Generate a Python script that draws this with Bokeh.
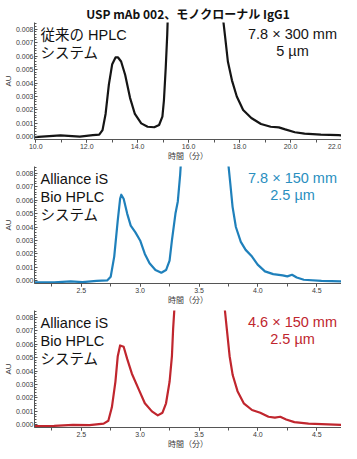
from bokeh.plotting import figure
from bokeh.layouts import column
from bokeh.models import Label, FixedTicker, NumeralTickFormatter, Range1d
from bokeh.embed import file_html
from bokeh.resources import INLINE

# ---------------- data ----------------
title_text = "USP mAb 002、モノクローナル IgG1"
x_label = "時間（分）"
y_label = "AU"

y_ticks = [0.0, 0.001, 0.002, 0.003, 0.004, 0.005, 0.006, 0.007, 0.008]

# Panel 1: conventional HPLC, 7.8 x 300 mm, 5 um
t1 = [9.95, 10.97, 11.73, 12.24, 12.49, 12.62, 12.74, 12.87, 13.0, 13.13, 13.23, 13.35,
      13.51, 13.7, 13.89, 14.14, 14.39, 14.65, 14.84, 14.97, 15.03, 15.1, 15.16, 15.18,
      15.3, 15.6, 16.2, 16.8, 17.1, 17.3,
      17.35, 17.44, 17.54, 17.7, 17.89, 18.14, 18.46, 18.84, 19.22, 19.54, 19.79,
      20.17, 20.55, 21.19, 21.89, 22.0]
a1 = [-0.00003, 0.0001, 0.00002, 0.00012, 0.00016, 0.0005, 0.0017, 0.0039, 0.0054, 0.0059,
      0.0059, 0.0056, 0.0046, 0.0029, 0.0017, 0.0010, 0.00075, 0.00071, 0.00088, 0.0015,
      0.0027, 0.0051, 0.0076, 0.0088,
      0.015, 0.028, 0.035, 0.028, 0.016, 0.0095,
      0.0088, 0.0073, 0.0056, 0.0042, 0.0030, 0.0020, 0.0014, 0.00095, 0.00075, 0.0007,
      0.00055, 0.00034, 0.00024, 0.00016, 0.00012, 0.00011]
x_ticks1 = [10.0, 12.0, 14.0, 16.0, 18.0, 20.0, 22.0]
x_minor1 = [10, 11, 12, 13, 14, 15, 16, 17, 18, 19, 20, 21, 22]

# Panel 2: Alliance iS Bio HPLC, 7.8 x 150 mm, 2.5 um
t2 = [2.103, 2.27, 2.41, 2.51, 2.63, 2.72, 2.75, 2.78, 2.81, 2.83, 2.84, 2.86, 2.89, 2.92,
      2.96, 3.0, 3.04, 3.08, 3.13, 3.18, 3.22, 3.25, 3.27, 3.30, 3.32, 3.34, 3.345,
      3.4, 3.5, 3.6, 3.7,
      3.75, 3.766, 3.785, 3.813, 3.855, 3.896, 3.95, 3.998, 4.06, 4.13, 4.21, 4.25, 4.29,
      4.33, 4.39, 4.54, 4.71]
a2 = [-0.00012, -0.00012, -0.00004, -0.0001, 0.0, 0.00003, 0.0003, 0.0018, 0.0045, 0.0061,
      0.0064, 0.0061, 0.0050, 0.0041, 0.0036, 0.0030, 0.0020, 0.0013, 0.0008, 0.0006,
      0.0008, 0.0015, 0.0030, 0.0050, 0.0059, 0.0079, 0.0086,
      0.018, 0.030, 0.025, 0.012,
      0.0086, 0.0072, 0.0055, 0.0040, 0.0029, 0.0023, 0.0018, 0.0012, 0.0007, 0.0005,
      0.0004, 0.00033, 0.00045, 0.00025, 0.00008, 0.0, -0.00004]

# Panel 3: Alliance iS Bio HPLC, 4.6 x 150 mm, 2.5 um
t3 = [2.103, 2.27, 2.43, 2.57, 2.69, 2.73, 2.76, 2.79, 2.81, 2.83, 2.86, 2.89, 2.93, 2.99,
      3.04, 3.10, 3.15, 3.19, 3.22, 3.25, 3.27, 3.28, 3.29,
      3.35, 3.45, 3.55, 3.65, 3.70,
      3.72, 3.74, 3.76, 3.786, 3.827, 3.88, 3.95, 4.02, 4.09, 4.144, 4.19, 4.24, 4.31,
      4.43, 4.71]
a3 = [-0.0001, -0.00008, 0.0, -0.00003, 0.00009, 0.0003, 0.0013, 0.0032, 0.0051, 0.0059,
      0.0058, 0.0049, 0.0038, 0.0026, 0.0016, 0.0010, 0.0007, 0.0009, 0.0016, 0.0032,
      0.0051, 0.0071, 0.0085,
      0.016, 0.028, 0.03, 0.02, 0.011,
      0.0085, 0.0068, 0.0051, 0.0037, 0.0025, 0.0016, 0.0011, 0.0009, 0.0006, 0.00053,
      0.0006, 0.0004, 0.0002, 0.00009, 0.0]
x_ticks23 = [2.5, 3.0, 3.5, 4.0, 4.5]
x_minor23 = [2.25, 2.5, 2.75, 3.0, 3.25, 3.5, 3.75, 4.0, 4.25, 4.5, 4.75]

y_minor = [i * 0.0002 for i in range(-1, 44)]

left_labels = [["従来の HPLC", "システム"],
               ["Alliance iS", "Bio HPLC", "システム"],
               ["Alliance iS", "Bio HPLC", "システム"]]
right_labels = [["7.8 × 300 mm", "5 µm"],
                ["7.8 × 150 mm", "2.5 µm"],
                ["4.6 × 150 mm", "2.5 µm"]]
line_colors = ["#151515", "#1f80bb", "#c0262e"]
text_colors = ["#151515", "#2a8fc0", "#c0262e"]

FONT = "Liberation Sans, Arial, Noto Sans CJK JP, sans-serif"
TITLE_FONT = "Noto Sans CJK JP, Liberation Sans, sans-serif"
FW = 307   # frame width
FH = 117   # frame height


def make_fig(top, bottom, xr, xt, xm, title=None):
    p = figure(frame_width=FW, frame_height=FH, output_backend="svg", toolbar_location=None,
               x_range=Range1d(*xr), y_range=Range1d(-0.0002, 0.0085),
               min_border_left=34, min_border_right=0, min_border_top=top,
               min_border_bottom=bottom, title=title)
    p.outline_line_color = None
    p.xgrid.visible = False
    p.ygrid.visible = False
    p.background_fill_color = "white"
    p.border_fill_color = "white"
    for ax in (p.xaxis[0], p.yaxis[0]):
        ax.axis_line_color = "#555555"
        ax.major_tick_line_color = "#555555"
        ax.minor_tick_line_color = "#555555"
        ax.major_label_text_font = FONT
        ax.major_label_text_font_size = "7px"
        ax.major_label_text_color = "#3a3a3a"
        ax.axis_label_text_font = FONT
        ax.axis_label_text_font_size = "8px"
        ax.axis_label_text_font_style = "normal"
        ax.axis_label_text_color = "#3a3a3a"
        ax.major_label_standoff = 1
        ax.axis_label_standoff = 0
    p.xaxis.ticker = FixedTicker(ticks=xt, minor_ticks=xm)
    p.xaxis.formatter = NumeralTickFormatter(format="0.0")
    p.xaxis.major_tick_in = 0
    p.xaxis.major_tick_out = 3
    p.xaxis.minor_tick_in = 0
    p.xaxis.minor_tick_out = 3
    p.xaxis.axis_label = x_label
    p.yaxis.ticker = FixedTicker(ticks=y_ticks, minor_ticks=y_minor)
    p.yaxis.formatter = NumeralTickFormatter(format="0.000")
    p.yaxis.major_tick_in = 3
    p.yaxis.major_tick_out = 0
    p.yaxis.minor_tick_in = 2
    p.yaxis.minor_tick_out = 0
    p.yaxis.axis_label = y_label
    return p


p1 = make_fig(22, 21, (9.95, 22.0), x_ticks1, x_minor1, title=title_text)
p1.title.align = "center"
p1.title.text_font = TITLE_FONT
p1.title.text_font_size = "12px"
p1.title.text_font_style = "bold"
p1.title.text_color = "#111111"
p1.title.standoff = 2
p2 = make_fig(3, 21, (2.103, 4.71), x_ticks23, x_minor23)
p3 = make_fig(3, 21, (2.103, 4.71), x_ticks23, x_minor23)
figs = [p1, p2, p3]
series = [(t1, a1), (t2, a2), (t3, a3)]

for i, p in enumerate(figs):
    t, a = series[i]
    p.line(t, a, line_color=line_colors[i], line_width=2.2, line_join="round")
    for j, s in enumerate(left_labels[i]):
        p.add_layout(Label(x=6, y=FH - 12 - j * 18.3, x_units="screen", y_units="screen",
                           text=s, text_font=FONT, text_font_size="14.5px",
                           text_color="#111111", text_baseline="middle", text_align="left"))
    for j, s in enumerate(right_labels[i]):
        p.add_layout(Label(x=FW - 49, y=FH - 11 - j * 17.3, x_units="screen", y_units="screen",
                           text=s, text_font=FONT, text_font_size="14.5px",
                           text_color=text_colors[i], text_baseline="middle", text_align="center"))

layout = column(*figs, spacing=0)
open("out.html", "w").write(file_html(layout, INLINE))
